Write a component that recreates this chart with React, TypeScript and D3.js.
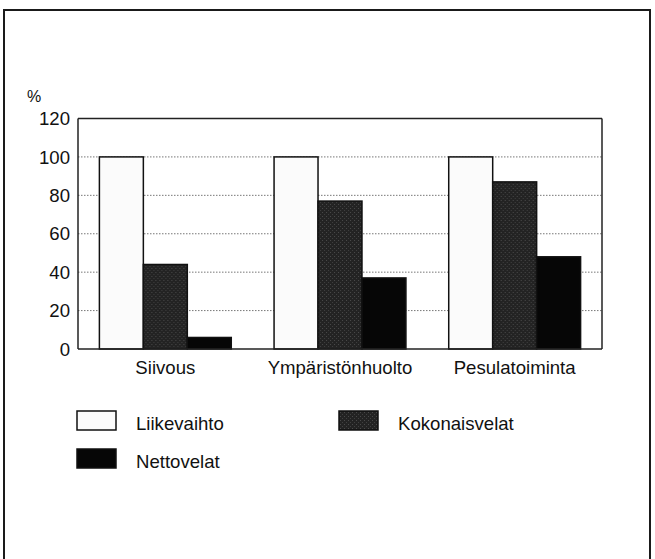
import React from "react";
import * as d3 from "d3";

const categories = ["Siivous", "Ympäristönhuolto", "Pesulatoiminta"];
const seriesNames = ["Liikevaihto", "Kokonaisvelat", "Nettovelat"];
const liikevaihto = [100, 100, 100];
const kokonaisvelat = [44, 77, 87];
const nettovelat = [6, 37, 48];
const yTicks = [0, 20, 40, 60, 80, 100, 120];
const gridTicks = [20, 40, 60, 80, 100];

const seriesValues = [liikevaihto, kokonaisvelat, nettovelat];
const seriesFill = ["#fbfbfb", "#262626", "#060606"];

const W = 655;
const H = 559;
const plot = { left: 78, right: 602, top: 118.5, bottom: 349 };
const FONT = "'Liberation Sans', Arial, Helvetica, sans-serif";
const FS = 18.6;

export default function App() {
  const x0 = d3
    .scaleBand<string>()
    .domain(categories)
    .range([plot.left, plot.right])
    .paddingInner(0.245)
    .paddingOuter(0.1225);
  const x1 = d3
    .scaleBand<string>()
    .domain(seriesNames)
    .range([0, x0.bandwidth()])
    .padding(0);
  const y = d3.scaleLinear().domain([0, 120]).range([plot.bottom, plot.top]);

  const legendItems = [
    { name: seriesNames[0], x: 77, y: 411 },
    { name: seriesNames[1], x: 339, y: 411 },
    { name: seriesNames[2], x: 77, y: 449 },
  ];

  return (
    <svg
      width={W}
      height={H}
      viewBox={`0 0 ${W} ${H}`}
      style={{ position: "absolute", left: 0, top: 0, background: "#fff" }}
      fontFamily={FONT}
    >
      <defs>
        <pattern id="stipple" width="4" height="4" patternUnits="userSpaceOnUse">
          <rect width="4" height="4" fill="#232323" />
          <rect x="0" y="0" width="1" height="1" fill="#4a4a4a" />
          <rect x="2" y="2" width="1" height="1" fill="#404040" />
        </pattern>
      </defs>
      <rect x={4} y={10} width={646} height={560} fill="#fff" stroke="#1a1a1a" strokeWidth={2} />

      <text x={27} y={102} fontSize={16} fill="#111">%</text>

      {/* gridlines */}
      {gridTicks.map((t) => (
        <line
          key={t}
          x1={plot.left}
          x2={plot.right}
          y1={y(t)}
          y2={y(t)}
          stroke="#777"
          strokeWidth={1}
          strokeDasharray="1.5,1.5"
        />
      ))}

      {/* frame */}
      <line x1={plot.left} x2={plot.right} y1={y(120)} y2={y(120)} stroke="#222" strokeWidth={1.5} />
      <line x1={plot.left} x2={plot.left} y1={y(120)} y2={y(0)} stroke="#222" strokeWidth={1.5} />
      <line x1={plot.right} x2={plot.right} y1={y(120)} y2={y(0)} stroke="#222" strokeWidth={1.5} />

      {/* bars */}
      {categories.map((c, ci) => (
        <g key={c} transform={`translate(${x0(c)},0)`}>
          {seriesNames.map((s, si) => {
            const v = seriesValues[si][ci];
            return (
              <rect
                key={s}
                x={x1(s)}
                y={y(v)}
                width={x1.bandwidth()}
                height={y(0) - y(v)}
                fill={si === 1 ? "url(#stipple)" : seriesFill[si]}
                stroke="#111"
                strokeWidth={1.5}
              />
            );
          })}
        </g>
      ))}

      <line x1={plot.left} x2={plot.right} y1={y(0)} y2={y(0)} stroke="#222" strokeWidth={1.5} />

      {/* y ticks */}
      {yTicks.map((t) => (
        <text key={t} x={70} y={y(t)} dy="0.36em" textAnchor="end" fontSize={FS} fill="#111">
          {t}
        </text>
      ))}

      {/* x labels */}
      {categories.map((c) => (
        <text
          key={c}
          x={(x0(c) as number) + x0.bandwidth() / 2}
          y={374}
          textAnchor="middle"
          fontSize={FS}
          fill="#111"
        >
          {c}
        </text>
      ))}

      {/* legend */}
      {legendItems.map((it) => {
        const si = seriesNames.indexOf(it.name);
        return (
          <g key={it.name}>
            <rect
              x={it.x}
              y={it.y}
              width={39}
              height={19}
              fill={si === 1 ? "url(#stipple)" : seriesFill[si]}
              stroke="#111"
              strokeWidth={1.5}
            />
            <text x={it.x + 59} y={it.y + 19} fontSize={FS} fill="#111">
              {it.name}
            </text>
          </g>
        );
      })}
    </svg>
  );
}
